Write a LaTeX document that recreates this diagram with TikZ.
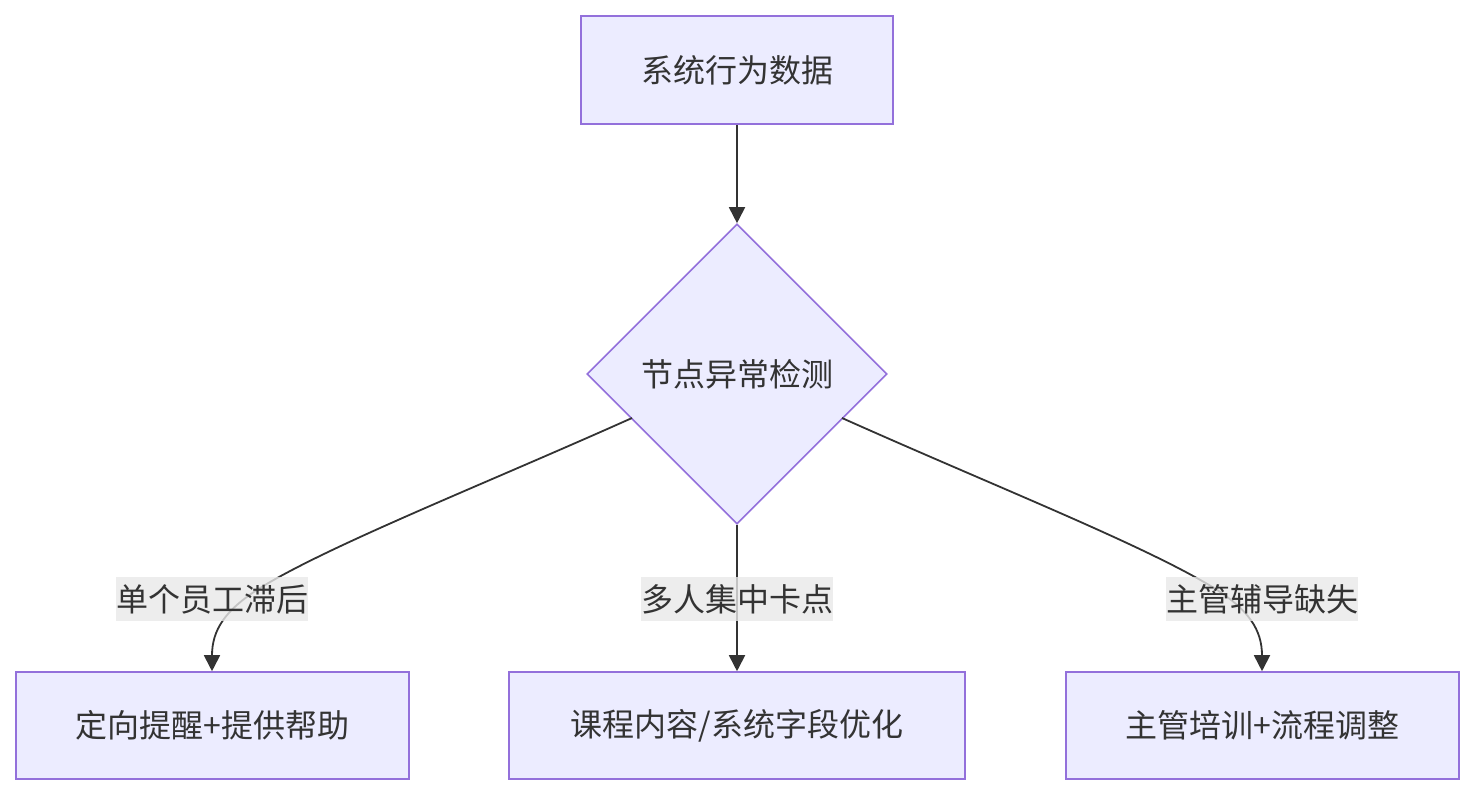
\documentclass[tikz,border=0pt]{standalone}
\usepackage{fontspec}
\setmainfont{Noto Sans CJK SC}
\usetikzlibrary{arrows.meta,shapes.geometric}
\definecolor{nodefill}{HTML}{ECECFF}
\definecolor{nodeline}{HTML}{9370DB}
\definecolor{ink}{HTML}{333333}
\definecolor{lblbg}{HTML}{E8E8E8}
\tikzset{
  box/.style={draw=nodeline, fill=nodefill, line width=1.6pt, text=ink, font=\fontsize{32}{38}\selectfont, inner sep=0pt},
  dia/.style={diamond, draw=nodeline, fill=nodefill, line width=1.6pt, text=ink, font=\fontsize{32}{38}\selectfont, inner sep=0pt, minimum width=300pt, minimum height=300pt, aspect=1},
  conn/.style={draw=ink, line width=1.8pt, -{Triangle[length=16pt,width=16pt]}},
  lbl/.style={fill=lblbg, fill opacity=0.8, text opacity=1, text=ink, font=\fontsize{32}{38}\selectfont, inner xsep=0pt, inner ysep=0pt, minimum height=44pt}
}
\begin{document}
\begin{tikzpicture}[x=1pt,y=-1pt]
\useasboundingbox (0,0) rectangle (1474,796);
\node[box, minimum width=312pt, minimum height=108pt] (src) at (737,70) {系统行为数据};
\node[dia] (chk) at (737,374) {节点异常检测};
\node[box, minimum width=393pt, minimum height=107pt] (a) at (212.5,725.5) {定向提醒+提供帮助};
\node[box, minimum width=456pt, minimum height=107pt] (b) at (737,725.5) {课程内容/系统字段优化};
\node[box, minimum width=393pt, minimum height=107pt] (c) at (1262.5,725.5) {主管培训+流程调整};
\coordinate (la) at (632,418);
\coordinate (rc) at (842,418);
\draw[conn] (src) -- (chk);
\draw[conn] (la) .. controls (480,486) and (330,545) .. (260,588) .. controls (225,610) and (212,630) .. (a.north -| 212,0);
\draw[conn] (chk) -- (b);
\draw[conn] (rc) .. controls (994,486) and (1144,545) .. (1214,588) .. controls (1249,610) and (1262,630) .. (c.north -| 1262,0);
\node[lbl] (l1) at (212,599) {单个员工滞后};
\node[lbl] (l2) at (737,599) {多人集中卡点};
\node[lbl] (l3) at (1262,599) {主管辅导缺失};
\end{tikzpicture}
\end{document}
